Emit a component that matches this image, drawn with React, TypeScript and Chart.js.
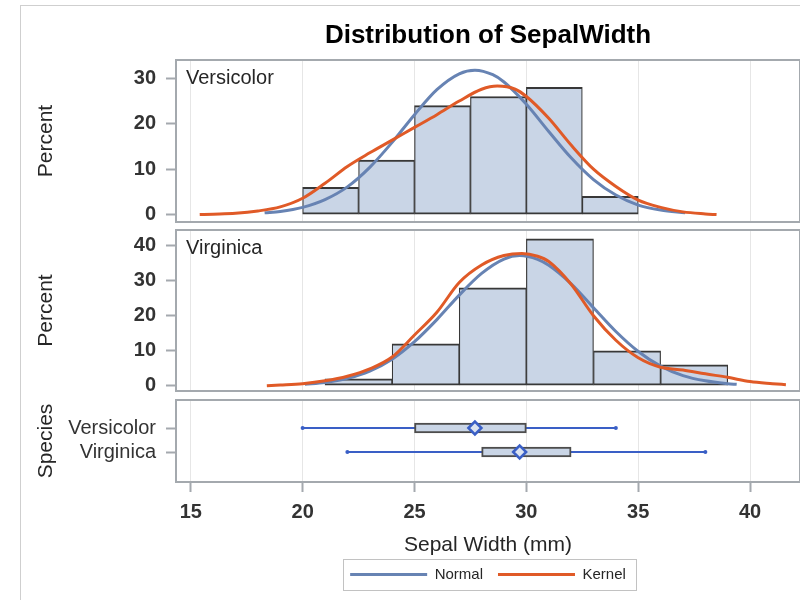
import React, { useEffect, useRef } from 'react';
import { Chart, registerables } from 'chart.js';
Chart.register(...registerables);

const FONT = '"Liberation Sans", Arial, sans-serif';
Chart.defaults.font.family = FONT;

// ---- text ----
const chartTitle = 'Distribution of SepalWidth';
const xTitle = 'Sepal Width (mm)';
const yTitle = 'Percent';
const boxAxisTitle = 'Species';
const species = ['Versicolor', 'Virginica'];
const legendNames = ['Normal', 'Kernel'];

// ---- axes ----
const xTicks = [15, 20, 25, 30, 35, 40];
const xRange = [14.34, 42.23];
const percentTicksVersicolor = [0, 10, 20, 30];
const percentTicksVirginica = [0, 10, 20, 30, 40];
const percentRangeVersicolor = [-1.63, 34.04];
const percentRangeVirginica = [-1.5, 44.5];
const speciesRange = [-0.1667, 3.25];

// ---- histograms (bin midpoints, percent) ----
const versicolorBinMid = [21.25, 23.75, 26.25, 28.75, 31.25, 33.75];
const versicolorPercent = [6, 12, 24, 26, 28, 4];
const virginicaBinMid = [22.5, 25.5, 28.5, 31.5, 34.5, 37.5];
const virginicaPercent = [2, 12, 28, 42, 10, 6];

// ---- fitted curves ----
const versicolorNormalX = [18.3, 19, 20, 21, 22, 23, 24, 25, 26, 27, 27.7, 28.5, 29, 30, 31, 32, 33, 34, 35, 36, 37.1];
const versicolorNormalY = [0.4, 0.7, 1.6, 3.3, 6.1, 10.4, 15.9, 22.0, 27.5, 31.0, 31.8, 30.8, 29.2, 24.3, 18.3, 12.5, 7.7, 4.3, 2.1, 1.0, 0.4];
const versicolorKernelX = [15.4, 16, 17, 18, 19, 20, 21, 22, 23, 24, 25, 26, 27, 28, 28.7, 29.5, 30, 31, 32, 33, 34, 35, 36, 37, 38, 38.5];
const versicolorKernelY = [0, 0.1, 0.3, 0.8, 1.7, 3.6, 6.9, 10.6, 13.6, 16.4, 19.2, 22.0, 25.0, 27.6, 28.3, 27.6, 26.0, 21.2, 15.3, 10.0, 6.2, 3.2, 1.6, 0.6, 0.15, 0];
const virginicaNormalX = [20.1, 21, 22, 23, 24, 25, 26, 27, 28, 29, 29.7, 30.5, 31, 32, 33, 34, 35, 36, 37, 38, 39, 39.4];
const virginicaNormalY = [0.4, 0.9, 2.1, 4.2, 7.6, 12.6, 18.9, 25.9, 32.1, 36.2, 37.2, 36.1, 34.4, 29.1, 22.3, 15.5, 9.8, 5.6, 2.9, 1.4, 0.6, 0.4];
const virginicaKernelX = [18.4, 19, 20, 21, 22, 23, 24, 25, 26, 27, 28, 29, 29.8, 30.5, 31, 32, 33, 34, 35, 36, 37, 38, 39, 40, 41, 41.6];
const virginicaKernelY = [0, 0.2, 0.6, 1.4, 2.7, 4.8, 8.2, 14.5, 21.0, 29.5, 34.5, 37.2, 37.8, 37.0, 35.5, 29.0, 20.0, 13.0, 8.0, 5.3, 4.5, 3.4, 2.4, 1.2, 0.6, 0.3];

// ---- box plot stats ----
const boxMin = [20, 22];
const boxQ1 = [25, 28];
const boxQ3 = [30, 32];
const boxMax = [34, 38];
const boxMean = [27.7, 29.7];

// ---- colours ----
const NORMAL = '#6783b3';
const KERNEL = '#e05a27';
const BAR_FILL = '#c9d5e6';
const BAR_EDGE = '#383838';
const BLUE = '#3a5fc6';
const FRAME = '#a4a9ae';
const GRID = '#e6e6e6';
const TEXT = '#262626';

const pts = (xs: number[], ys: number[]) => xs.map((x, i) => ({ x, y: ys[i] }));

const framePlugin = {
  id: 'panelFrame',
  afterDatasetsDraw(chart: any) {
    const { ctx, chartArea: a } = chart;
    ctx.save();
    ctx.strokeStyle = FRAME;
    ctx.lineWidth = 2;
    ctx.strokeRect(a.left, a.top, a.right - a.left, a.bottom - a.top);
    ctx.restore();
  },
};

const insetPlugin = (text: string) => ({
  id: 'insetLabel',
  afterDatasetsDraw(chart: any) {
    const { ctx, chartArea: a } = chart;
    ctx.save();
    ctx.font = `20px ${FONT}`;
    ctx.fillStyle = TEXT;
    ctx.textAlign = 'left';
    ctx.textBaseline = 'middle';
    ctx.fillText(text, a.left + 10, a.top + 18);
    ctx.restore();
  },
});

const legendFramePlugin = {
  id: 'legendFrame',
  afterDraw(chart: any) {
    const lg = chart.legend;
    if (!lg || !lg.legendHitBoxes || !lg.legendHitBoxes.length) return;
    const hb = lg.legendHitBoxes;
    const left = Math.min(...hb.map((h: any) => h.left)) - 7;
    const right = Math.max(...hb.map((h: any) => h.left + h.width)) + 10;
    const cy = hb[0].top + hb[0].height / 2;
    const { ctx } = chart;
    ctx.save();
    ctx.strokeStyle = '#c2c2c2';
    ctx.lineWidth = 1;
    ctx.strokeRect(Math.round(left) + 0.5, Math.round(cy - 15.5) + 0.5, Math.round(right - left), 31);
    ctx.restore();
  },
};

const zeroPad = (s: any) => { s.paddingTop = 0; s.paddingBottom = 0; s.paddingLeft = 0; s.paddingRight = 0; };

function xScale(showAxis: boolean) {
  return {
    type: 'linear',
    min: xRange[0],
    max: xRange[1],
    offset: false,
    afterBuildTicks: (s: any) => { s.ticks = xTicks.map((v) => ({ value: v })); },
    afterFit: (s: any) => { s.height = showAxis ? 70 : 0; zeroPad(s); },
    grid: { display: true, offset: false, drawOnChartArea: true, drawTicks: showAxis, tickLength: 10, color: GRID, lineWidth: 1, tickColor: FRAME, tickWidth: 2 },
    border: { display: false },
    ticks: { display: showAxis, padding: 8, font: { family: FONT, size: 20, weight: 'bold' }, color: '#333' },
    title: { display: showAxis, text: xTitle, font: { family: FONT, size: 21 }, color: TEXT, padding: { top: 0, bottom: -5.5 } },
  };
}

function yScale(ticks: number[], range: number[], title: string, labels?: string[], reverse = false) {
  return {
    type: 'linear',
    min: range[0],
    max: range[1],
    reverse,
    offset: false,
    afterBuildTicks: (s: any) => { s.ticks = ticks.map((v) => ({ value: v })); },
    afterFit: (s: any) => { s.width = 176; zeroPad(s); },
    grid: { offset: false, drawOnChartArea: false, drawTicks: true, tickLength: 10, tickColor: FRAME, tickWidth: 2 },
    border: { display: false },
    ticks: {
      padding: 10,
      font: { family: FONT, size: 20, weight: labels ? 'normal' : 'bold' },
      color: '#333',
      callback: labels ? (v: any) => labels[Number(v) - 1] : (v: any) => String(v),
    },
    title: { display: true, text: title, font: { family: FONT, size: 21 }, color: TEXT, padding: { top: 34, bottom: 0 } },
  };
}

function histDatasets(binMid: number[], pct: number[], nx: number[], ny: number[], kx: number[], ky: number[]) {
  return [
    { type: 'line', label: 'Kernel', data: pts(kx, ky), borderColor: KERNEL, borderWidth: 3, pointRadius: 0, fill: false, cubicInterpolationMode: 'monotone', order: 1 },
    { type: 'line', label: 'Normal', data: pts(nx, ny), borderColor: NORMAL, borderWidth: 3, pointRadius: 0, fill: false, cubicInterpolationMode: 'monotone', order: 2 },
    {
      type: 'bar', label: 'Percent', data: pts(binMid, pct),
      backgroundColor: BAR_FILL, borderColor: BAR_EDGE,
      borderWidth: { top: 2, bottom: 2, left: 1.2, right: 1.2 }, borderSkipped: false,
      barPercentage: 1, categoryPercentage: 1, order: 3,
    },
  ];
}

const baseOpts = {
  responsive: false,
  animation: false,
  events: [],
};

export default function App() {
  const refA = useRef<HTMLCanvasElement>(null);
  const refB = useRef<HTMLCanvasElement>(null);
  const refC = useRef<HTMLCanvasElement>(null);

  useEffect(() => {
    const charts: Chart[] = [];

    charts.push(new Chart(refA.current as any, {
      type: 'line',
      data: { datasets: histDatasets(versicolorBinMid, versicolorPercent, versicolorNormalX, versicolorNormalY, versicolorKernelX, versicolorKernelY) as any },
      options: {
        ...baseOpts,
        layout: { autoPadding: false, padding: { top: 0, bottom: 4, left: 0, right: 0 } },
        scales: { x: xScale(false), y: yScale(percentTicksVersicolor, percentRangeVersicolor, yTitle) } as any,
        plugins: {
          legend: { display: false },
          tooltip: { enabled: false },
          title: { display: true, text: chartTitle, fullSize: false, font: { family: FONT, size: 26, weight: 'bold' }, color: '#000', padding: { top: 20, bottom: 8.8 } },
        },
      } as any,
      plugins: [framePlugin, insetPlugin(species[0])],
    }));

    charts.push(new Chart(refB.current as any, {
      type: 'line',
      data: { datasets: histDatasets(virginicaBinMid, virginicaPercent, virginicaNormalX, virginicaNormalY, virginicaKernelX, virginicaKernelY) as any },
      options: {
        ...baseOpts,
        layout: { autoPadding: false, padding: { top: 4, bottom: 5, left: 0, right: 0 } },
        scales: { x: xScale(false), y: yScale(percentTicksVirginica, percentRangeVirginica, yTitle) } as any,
        plugins: { legend: { display: false }, tooltip: { enabled: false }, title: { display: false } },
      } as any,
      plugins: [framePlugin, insetPlugin(species[1])],
    }));

    const legendColors = [NORMAL, KERNEL];
    charts.push(new Chart(refC.current as any, {
      type: 'line',
      data: {
        datasets: [
          {
            type: 'line', label: 'Mean', data: species.map((s, i) => ({ x: boxMean[i], y: i + 1 })),
            showLine: false, pointStyle: 'rectRot', pointRadius: 6.5, pointBorderWidth: 2.5,
            pointBorderColor: BLUE, pointBackgroundColor: '#dbe3f0', order: 1,
          },
          {
            type: 'bar', indexAxis: 'y', label: 'Box', data: species.map((s, i) => ({ y: i + 1, x: [boxQ1[i], boxQ3[i]] })),
            barThickness: 10, backgroundColor: BAR_FILL, borderColor: '#4d4d4d', borderWidth: 2, borderSkipped: false, order: 2,
          },
          ...species.map((s, i) => ({
            type: 'line', label: s + ' whisker', data: [{ x: boxMin[i], y: i + 1 }, { x: boxMax[i], y: i + 1 }],
            borderColor: BLUE, borderWidth: 2, pointRadius: 2, pointBackgroundColor: BLUE, pointBorderWidth: 0, order: 3,
          })),
        ] as any,
      },
      options: {
        ...baseOpts,
        layout: { autoPadding: false, padding: { top: 4, bottom: 8, left: 0, right: 0 } },
        scales: { x: xScale(true), y: yScale([1, 2], speciesRange, boxAxisTitle, species, true) } as any,
        plugins: {
          tooltip: { enabled: false },
          title: { display: false },
          legend: {
            display: true, position: 'bottom', fullSize: false, onClick: () => {},
            labels: {
              boxWidth: 77, boxHeight: 3, padding: 15, color: TEXT,
              font: { family: FONT, size: 15 },
              generateLabels: () => legendNames.map((t, i) => ({
                text: t, fillStyle: legendColors[i], strokeStyle: legendColors[i], lineWidth: 0, hidden: false, datasetIndex: i, fontColor: TEXT,
              })),
            },
          },
        },
      } as any,
      plugins: [framePlugin, legendFramePlugin],
    }));

    return () => { charts.forEach((c) => c.destroy()); };
  }, []);

  const cv = (top: number, h: number): React.CSSProperties => ({ position: 'absolute', left: 0, top, width: 800, height: h });

  return (
    <div style={{ position: 'fixed', left: 0, top: 0, width: 800, height: 600, overflow: 'hidden', background: '#fff' }}>
      <div style={{ position: 'absolute', left: 20, top: 5, width: 900, height: 700, borderLeft: '1px solid #cfcfcf', borderTop: '1px solid #cfcfcf' }} />
      <canvas ref={refA} width={800} height={226} style={cv(0, 226)} />
      <canvas ref={refB} width={800} height={170} style={cv(226, 170)} />
      <canvas ref={refC} width={800} height={204} style={cv(396, 204)} />
    </div>
  );
}
